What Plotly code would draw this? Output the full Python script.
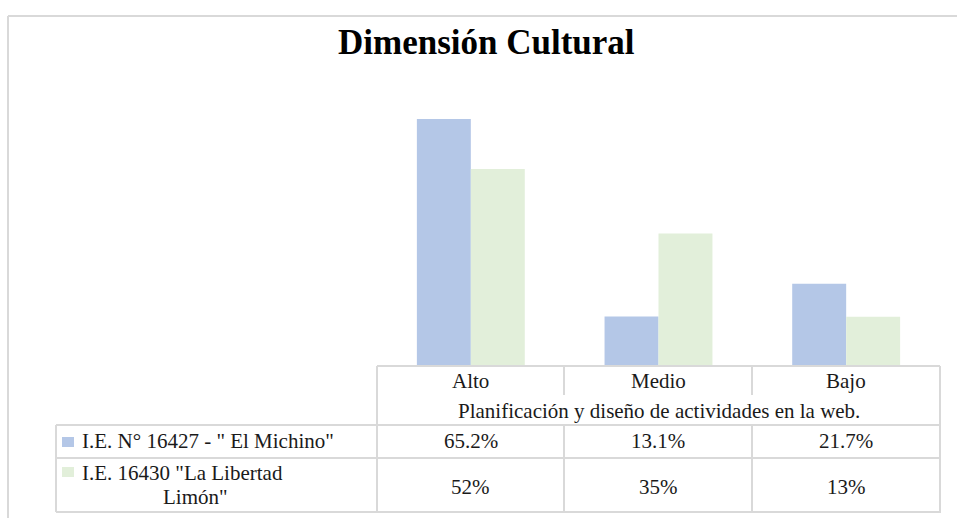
import plotly.graph_objects as go

W, H = 957, 518

categories = ["Alto", "Medio", "Bajo"]
series_names = ['I.E. N° 16427 - " El Michino"', 'I.E. 16430 "La Libertad<br>Limón"']
michino = [65.2, 13.1, 21.7]
libertad = [52, 35, 13]
colors = ["#B4C7E7", "#E2EFDA"]
title_text = "Dimensión Cultural"
axis_title = "Planificación y diseño de actividades en la web."

FONT = "Liberation Serif, Times New Roman, serif"
GRID = "#D9D9D9"
TXT = "#1a1a1a"

def px(x):
    return x / W

def py(y):
    return 1 - y / H

# geometry (pixels)
col_left, col_right = 377, 940
base_y = 366
top_y = 82
ymax = 75

fig = go.Figure()
for name, vals, c in zip(series_names, [michino, libertad], colors):
    fig.add_trace(go.Bar(x=categories, y=vals, name=name.replace("<br>", " "), marker_color=c,
                         marker_line_width=0, showlegend=False, hoverinfo="x+y"))

fig.update_layout(
    width=W, height=H,
    margin=dict(l=0, r=0, t=0, b=0),
    paper_bgcolor="white", plot_bgcolor="white",
    barmode="group", bargap=0.425, bargroupgap=0,
    xaxis=dict(domain=[px(col_left), px(col_right)], showticklabels=False,
               showgrid=False, zeroline=False, showline=False, ticks=""),
    yaxis=dict(domain=[py(base_y), py(top_y)], range=[0, ymax], showticklabels=False,
               showgrid=False, zeroline=False, showline=False, ticks=""),
    font=dict(family=FONT, color=TXT),
)

shapes = []
def line(x0, y0, x1, y1, color=GRID, w=2):
    shapes.append(dict(type="line", xref="paper", yref="paper",
                       x0=px(x0), y0=py(y0), x1=px(x1), y1=py(y1),
                       line=dict(color=color, width=w)))

# outer chart border
line(8, 16, 8, 518)
line(8, 16, 957, 16)

# table lines
cols = [377, 564, 752, 940]
line(377, base_y, 940, base_y)
line(377, base_y, 377, 513)
line(940, base_y, 940, 513)
for cx in cols[1:3]:
    line(cx, base_y, cx, 395)
    line(cx, 425, cx, 513)
line(56, 425, 940, 425)
line(56, 458, 940, 458)
line(56, 512, 940, 512)
line(56, 425, 56, 512)

# legend keys
for (y0, y1), c in zip([(437, 447), (467, 477)], colors):
    shapes.append(dict(type="rect", xref="paper", yref="paper",
                       x0=px(62), x1=px(74), y0=py(y1), y1=py(y0),
                       fillcolor=c, line=dict(width=0)))

annotations = []
def text(x, y, s, size=21, anchor="center", bold=False, color=TXT):
    annotations.append(dict(xref="paper", yref="paper", x=px(x), y=py(y), text=s,
                            showarrow=False, xanchor=anchor, yanchor="middle",
                            font=dict(family=FONT, size=size, color=color,
                                      weight="bold" if bold else "normal")))

text(487, 42, title_text, size=35, bold=True, color="black")

centers = [(cols[i] + cols[i + 1]) / 2 for i in range(3)]
for cx, cat in zip(centers, categories):
    text(cx, 381, cat)
text((377 + 940) / 2, 411, axis_title)

text(80, 441, series_names[0], anchor="left")
name2_l1, name2_l2 = series_names[1].split("<br>")
text(80, 473, name2_l1, anchor="left")
text(195, 497, name2_l2)

for cx, v in zip(centers, michino):
    text(cx, 441, f"{v:g}%")
for cx, v in zip(centers, libertad):
    text(cx, 487, f"{v:g}%")

fig.update_layout(shapes=shapes, annotations=annotations)
fig.write_html("out.html", config={"displayModeBar": False},
               post_script="document.body.style.margin='0';document.body.style.overflow='hidden';")
